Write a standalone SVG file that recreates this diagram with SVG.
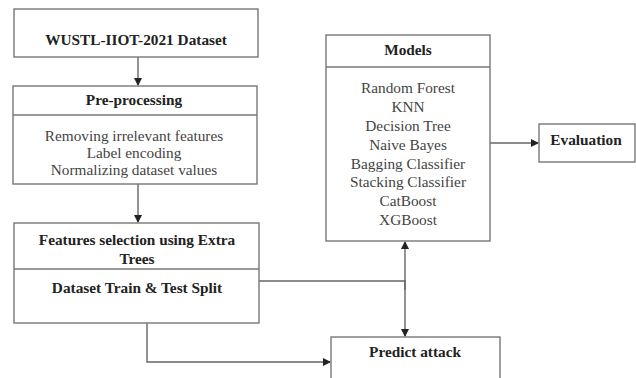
<svg xmlns="http://www.w3.org/2000/svg" width="636" height="378" viewBox="0 0 636 378">
<style>
.box{fill:#fff;stroke:#777;stroke-width:1.4}
.div{stroke:#777;stroke-width:1.4}
.h{font-weight:bold;font-size:15.3px;fill:#222;text-anchor:middle}
.t{font-size:15.3px;fill:#444;text-anchor:middle}
.c{fill:none;stroke:#666;stroke-width:1.4}
</style>
<defs>
<marker id="ah" markerWidth="8" markerHeight="8" refX="7" refY="4" orient="auto" markerUnits="userSpaceOnUse">
<path d="M0,0 L8,4 L0,8 z" fill="#222"/>
</marker>
</defs>
<rect width="636" height="378" fill="#fff"/>
<g id="connectors">
<line class="c" x1="138" y1="57" x2="138" y2="85" marker-end="url(#ah)"/>
<line class="c" x1="138" y1="184" x2="138" y2="222" marker-end="url(#ah)"/>
<line class="c" x1="490" y1="143" x2="538" y2="143" marker-end="url(#ah)"/>
<polyline class="c" points="259,281 405,281"/>
<line class="c" x1="405" y1="290" x2="405" y2="242" marker-end="url(#ah)"/>
<line class="c" x1="405" y1="280" x2="405" y2="336" marker-end="url(#ah)"/>
<polyline class="c" points="147,323 147,362 330,362" marker-end="url(#ah)"/>
</g>
<g font-family="Liberation Serif">
<g id="dataset">
<rect class="box" x="14" y="9" width="244" height="48"/>
<text class="h" x="136" y="45">WUSTL-IIOT-2021 Dataset</text>
</g>
<g id="preprocessing">
<rect class="box" x="13" y="86" width="244" height="98"/>
<line class="div" x1="13" y1="115" x2="257" y2="115"/>
<text class="h" x="134" y="105">Pre-processing</text>
<text class="t" x="134" y="141">Removing irrelevant features</text>
<text class="t" x="134" y="158">Label encoding</text>
<text class="t" x="134" y="175">Normalizing dataset values</text>
</g>
<g id="features">
<rect class="box" x="14" y="223" width="245" height="100"/>
<line class="div" x1="14" y1="269" x2="259" y2="269"/>
<text class="h" x="137" y="245">Features selection using Extra</text>
<text class="h" x="137" y="264">Trees</text>
<text class="h" x="137" y="293">Dataset Train &amp; Test Split</text>
</g>
<g id="models">
<rect class="box" x="326" y="35" width="164" height="206"/>
<line class="div" x1="326" y1="67" x2="490" y2="67"/>
<text class="h" x="408" y="55">Models</text>
<text class="t" x="408" y="93">Random Forest</text>
<text class="t" x="408" y="112">KNN</text>
<text class="t" x="408" y="131">Decision Tree</text>
<text class="t" x="408" y="150">Naive Bayes</text>
<text class="t" x="408" y="169">Bagging Classifier</text>
<text class="t" x="408" y="187">Stacking Classifier</text>
<text class="t" x="408" y="206">CatBoost</text>
<text class="t" x="408" y="225">XGBoost</text>
</g>
<g id="evaluation">
<rect class="box" x="539" y="124" width="96" height="38"/>
<text class="h" x="586" y="145">Evaluation</text>
</g>
<g id="predict">
<rect class="box" x="331" y="337" width="169" height="50"/>
<text class="h" x="415" y="357">Predict attack</text>
</g>
</g>
</svg>
